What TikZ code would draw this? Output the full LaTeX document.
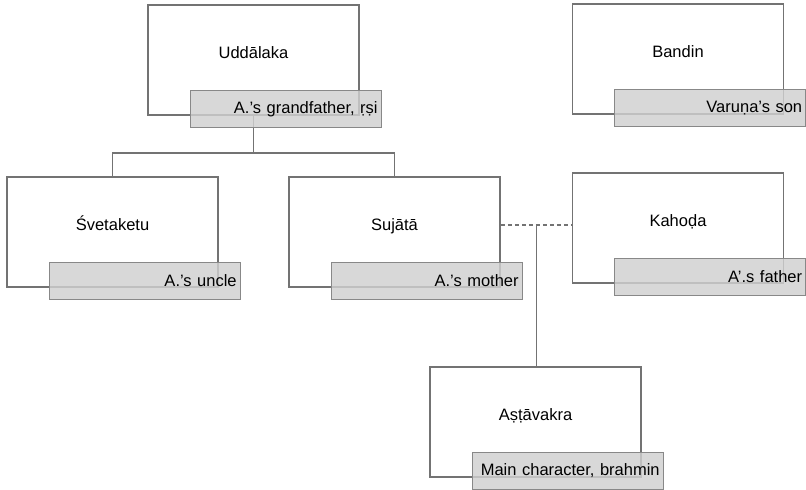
\documentclass[tikz,border=0pt]{standalone}
\usepackage{fontspec}
\setmainfont{Liberation Sans}
\usetikzlibrary{positioning}
\usetikzlibrary{calc}

\definecolor{boxline}{HTML}{737373}
\definecolor{tagfill}{HTML}{D0D0D0}
\definecolor{tagline}{HTML}{888888}

\begin{document}
\begin{tikzpicture}
  [
    x=1pt, y=-1pt,
    every node/.style={font=\fontsize{16.5}{19}\selectfont},
    person/.style = {draw=boxline, line width=1.6pt, rectangle, fill=white,
                     minimum width=211pt, minimum height=110pt,
                     text height=12pt, text depth=14.6pt, inner sep=0pt},
    tag/.style    = {draw=tagline, line width=1.3pt, rectangle, fill=tagfill, fill opacity=0.82,
                     text opacity=1, minimum width=191pt, minimum height=36.5pt,
                     text width=184pt, align=right, inner xsep=3.5pt, inner ysep=0pt,
                     anchor=south east},
    link/.style   = {draw=boxline, line width=1.4pt},
    wed/.style    = {link, dash pattern=on 4pt off 3pt},
  ]

  \useasboundingbox (0,0) rectangle (806,490);

  % the people
  \node (udd)  at (253.5, 60) [person] {Uddālaka};
  \node (ban)  at (678, 59)   [person] {Bandin};
  \node (sve)  at (112.5, 232) [person] {Śvetaketu};
  \node (suj)  at (394.5, 232) [person] {Sujātā};
  \node (kah)  at (678, 228)  [person] {Kahoḍa};
  \node (ast)  at (535.5, 422) [person] {Aṣṭāvakra};

  % the children of Uddalaka
  \coordinate (fork) at ($(udd.south)+(0,37)$);
  \draw[link] (udd.south) -- (fork);
  \draw[link] (sve.north) |- (fork) -| (suj.north);

  % marriage and son
  \draw[wed] ([yshift=7pt]suj.east) -- coordinate[midway] (mar) ([yshift=7pt]suj.east -| kah.west);
  \draw[link] (mar) -- (mar |- ast.north);

  % the tags
  \node (uddtag) at ([xshift=22pt,yshift=-12pt]udd.south east) [tag] {A.’s grandfather, ṛṣi};
  \node (bantag) at ([xshift=22pt,yshift=-12pt]ban.south east) [tag] {Varuṇa’s son};
  \node (svetag) at ([xshift=22pt,yshift=-12pt]sve.south east) [tag] {A.’s uncle};
  \node (sujtag) at ([xshift=22pt,yshift=-12pt]suj.south east) [tag] {A.’s mother};
  \node (kahtag) at ([xshift=22pt,yshift=-12pt]kah.south east) [tag] {A’.s father};
  \node (asttag) at ([xshift=22pt,yshift=-12pt]ast.south east) [tag] {Main character, brahmin};

\end{tikzpicture}
\end{document}
